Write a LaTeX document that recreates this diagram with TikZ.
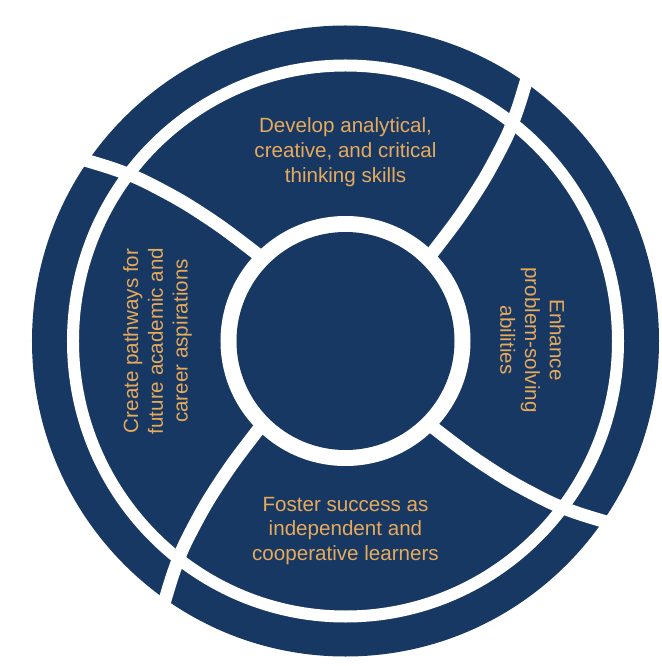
\documentclass[tikz,border=0pt]{standalone}
\usepackage{fontspec}
\setmainfont{Liberation Sans}
\definecolor{navy}{RGB}{23,56,99}
\definecolor{gold}{RGB}{231,170,92}
\begin{document}
\begin{tikzpicture}[x=1pt,y=1pt,
  txt/.style={text=gold, font=\fontsize{20.6}{24.8}\selectfont, align=center, inner sep=0pt},
  divider/.style={draw=white, line width=13pt},
  ringline/.style={draw=white, line width=12pt}]
\useasboundingbox (-345.5,-325) rectangle (315.5,341);
\fill[navy] (0,0) ellipse [x radius=313.5, y radius=315.5];
\draw[ringline] (0,0) ellipse [x radius=272.5, y radius=275.5];
\foreach \k in {0,1,2,3} {
  \draw[divider] plot[smooth] coordinates {({45+90*\k}:110) ({45.5+90*\k}:125) ({47.5+90*\k}:170) ({49.5+90*\k}:215) ({51.7+90*\k}:260) ({53.5+90*\k}:290) ({55.5+90*\k}:322)};
}
\fill[white] (0,0) circle (125);
\fill[navy] (0,0) circle (109);
\node[txt] (develop) at (0,189) {Develop analytical,\\creative, and critical\\thinking skills};
\node[txt] (foster) at (0,-190) {Foster success as\\independent and\\cooperative learners};
\node[txt, rotate=90] (create) at (-188,0) {Create pathways for\\future academic and\\career aspirations};
\node[txt, rotate=-90] (enhance) at (187,1) {Enhance\\problem-solving\\abilities};
\end{tikzpicture}
\end{document}
